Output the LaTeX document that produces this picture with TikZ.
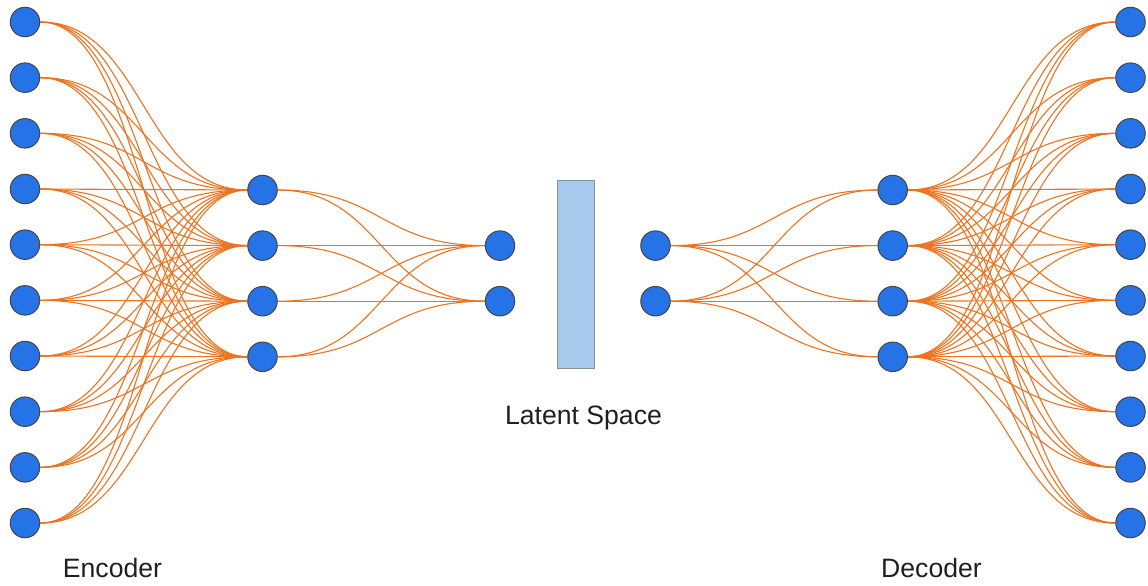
\documentclass[tikz,border=0pt]{standalone}
\usepackage{fontspec}
\setmainfont{Liberation Sans}
\usetikzlibrary{backgrounds}
\definecolor{neuron}{HTML}{2673E8}
\definecolor{rim}{HTML}{454545}
\definecolor{wire}{HTML}{EC7420}
\definecolor{latent}{HTML}{A6C9EC}
\definecolor{latentrim}{HTML}{8A8F99}
\tikzset{
  neuronnode/.style={circle,fill=neuron,draw=rim,line width=1pt,minimum size=29.5pt,inner sep=0pt},
  wireline/.style={draw=wire,line width=1.1pt},
  caption/.style={font=\fontsize{26.6}{30}\selectfont,text=black!88,inner sep=0pt}
}
% S-shaped link leaving and entering horizontally
\newcommand{\slink}[2]{\draw[wireline] (#1.east) .. controls +(104,0) and +(-104,0) .. (#2.west);}
\begin{document}
\begin{tikzpicture}[x=1pt,y=-1pt]
\useasboundingbox (0,0) rectangle (1148,586);
% encoder input layer
\foreach \i in {0,...,9}{
  \node[neuronnode] (ein\i) at (25,{22+55.67*\i}) {};
}
% encoder hidden layer
\foreach \j in {0,...,3}{
  \node[neuronnode] (ehid\j) at (262.5,{190+55.6*\j}) {};
}
% encoder code layer
\foreach \k in {0,1}{
  \node[neuronnode] (ecode\k) at (500,{245.6+55.6*\k}) {};
}
% decoder code layer
\foreach \k in {0,1}{
  \node[neuronnode] (dcode\k) at (655.5,{245.6+55.6*\k}) {};
}
% decoder hidden layer
\foreach \j in {0,...,3}{
  \node[neuronnode] (dhid\j) at (892.7,{190+55.6*\j}) {};
}
% decoder output layer
\foreach \i in {0,...,9}{
  \node[neuronnode] (dout\i) at (1130.5,{22+55.67*\i}) {};
}
% latent space bar
\node[draw=latentrim,fill=latent,line width=1pt,minimum width=37pt,minimum height=187.5pt,inner sep=0pt] (bar) at (575.5,274.5) {};
% connections, kept under the neurons
\begin{scope}[on background layer]
\foreach \i in {0,...,9}{
  \foreach \j in {0,...,3}{
    \slink{ein\i}{ehid\j}
    \slink{dhid\j}{dout\i}
  }
}
\foreach \j in {0,...,3}{
  \foreach \k in {0,1}{
    \slink{ehid\j}{ecode\k}
    \slink{dcode\k}{dhid\j}
  }
}
\end{scope}
% labels
\node[caption,anchor=base] (enclabel) at (112.5,577) {Encoder};
\node[caption,anchor=base] (latlabel) at (583.5,424) {Latent Space};
\node[caption,anchor=base] (declabel) at (931.5,577) {Decoder};
\end{tikzpicture}
\end{document}
